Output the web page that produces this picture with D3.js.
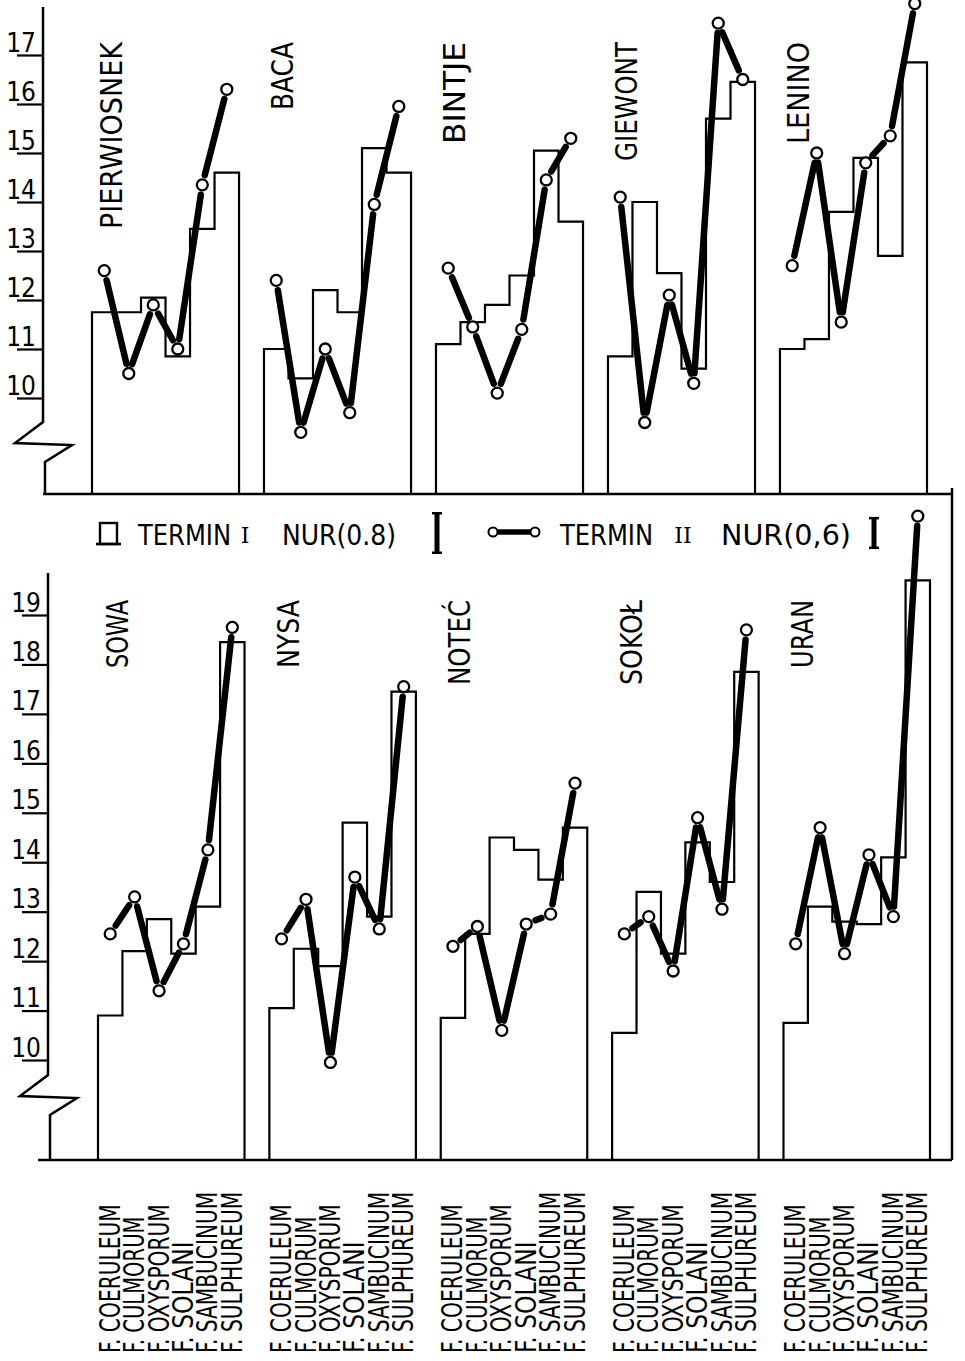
<!DOCTYPE html>
<html>
<head>
<meta charset="utf-8">
<script src="https://cdn.jsdelivr.net/npm/d3@7/dist/d3.min.js"></script>
<style>
  body { margin: 0; background: #fff; }
  text { font-family: "DejaVu Sans Condensed", "DejaVu Sans", sans-serif; fill: #000; }
</style>
</head>
<body>
<svg id="chart" width="965" height="1361"></svg>
<script>
const fungi = ["F. COERULEUM", "F. CULMORUM", "F. OXYSPORUM", "F. SOLANI", "F. SAMBUCINUM", "F. SULPHUREUM"];

const cultivarsTop = ["PIERWIOSNEK", "BACA", "BINTJE", "GIEWONT", "LENINO"];
const cultivarsBottom = ["SOWA", "NYSA", "NOTEĆ", "SOKOŁ", "URAN"];

// termin I (steps), one row per cultivar, one value per fungus
const termITop = [
  [11.75, 11.75, 12.05, 10.85, 13.45, 14.6],
  [11.0, 10.4, 12.2, 11.75, 15.1, 14.6],
  [11.1, 11.55, 11.9, 12.5, 15.05, 13.6],
  [10.85, 14.0, 12.55, 10.6, 15.7, 16.45],
  [11.0, 11.2, 13.8, 14.9, 12.9, 16.85]
];
// termin II (line with circles)
const termIITop = [
  [12.6, 10.5, 11.9, 11.0, 14.35, 16.3],
  [12.4, 9.3, 11.0, 9.7, 13.95, 15.95],
  [12.65, 11.45, 10.1, 11.4, 14.45, 15.3],
  [14.1, 9.5, 12.1, 10.3, 17.65, 16.5],
  [12.7, 15.0, 11.55, 14.8, 15.35, 18.05]
];

const termIBottom = [
  [10.9, 12.2, 12.85, 12.15, 13.1, 18.45],
  [11.05, 12.25, 11.9, 14.8, 12.9, 17.45],
  [10.85, 12.55, 14.5, 14.25, 13.65, 14.7],
  [10.55, 13.4, 12.15, 14.4, 13.6, 17.85],
  [10.75, 13.1, 12.8, 12.75, 14.1, 19.7]
];
const termIIBottom = [
  [12.55, 13.3, 11.4, 12.35, 14.25, 18.75],
  [12.45, 13.25, 9.95, 13.7, 12.65, 17.55],
  [12.3, 12.7, 10.6, 12.75, 12.95, 15.6],
  [12.55, 12.9, 11.8, 14.9, 13.05, 18.7],
  [12.35, 14.7, 12.15, 14.15, 12.9, 21.0]
];

const ticksTop = [10, 11, 12, 13, 14, 15, 16, 17];
const ticksBottom = [10, 11, 12, 13, 14, 15, 16, 17, 18, 19];

const nurValues = [0.8, 0.6];
const terminLabels = ["I", "II"];
const nurLabels = ["NUR(0.8)", "NUR(0,6)"];

const svg = d3.select("#chart");

const panels = [
  { cultivars: cultivarsTop, termI: termITop, termII: termIITop, ticks: ticksTop,
    yRange: [398, 55], xRange: [92, 927], axisX: 43, axisTop: 7, breakY: 422, base: 494, baseX0: 43, titleY: 42 },
  { cultivars: cultivarsBottom, termI: termIBottom, termII: termIIBottom, ticks: ticksBottom,
    yRange: [1060, 615], xRange: [98, 930], axisX: 48, axisTop: 573, breakY: 1075, base: 1160, baseX0: 38, titleY: 600 }
];

function trim(a, b, gap) {
  const dx = b[0] - a[0], dy = b[1] - a[1];
  const len = Math.hypot(dx, dy);
  const ux = dx / len, uy = dy / len;
  return [[a[0] + ux * gap, a[1] + uy * gap], [b[0] - ux * gap, b[1] - uy * gap]];
}

let pxPerUnit = 49;

panels.forEach((p, pi) => {
  const y = d3.scaleLinear().domain(d3.extent(p.ticks)).range(p.yRange);
  pxPerUnit = Math.abs(y(11) - y(10));
  const xGroup = d3.scaleBand().domain(p.cultivars).range(p.xRange).paddingInner(0.145).paddingOuter(0);
  const xFungus = d3.scaleBand().domain(fungi).range([0, xGroup.bandwidth()]).padding(0);

  const g = svg.append("g");

  // axis with tick labels above the ticks
  const axis = g.append("g")
    .attr("transform", `translate(${p.axisX},0)`)
    .call(d3.axisLeft(y).tickValues(p.ticks).tickSize(26).tickSizeOuter(0).tickFormat(d3.format("d")));
  axis.select(".domain").remove();
  axis.selectAll(".tick line").attr("stroke", "#000").attr("stroke-width", 2.2);
  axis.selectAll(".tick text")
    .attr("x", -22).attr("dy", -4)
    .attr("text-anchor", "middle")
    .style("font-size", "26px");

  // axis line with break
  const ax = p.axisX, bY = p.breakY;
  g.append("path")
    .attr("d", `M${ax},${p.axisTop}V${bY}L${ax - 28},${bY + 21}L${ax + 29},${bY + 23}L${ax + 2},${bY + 40}V${p.base}`)
    .attr("fill", "none").attr("stroke", "#000").attr("stroke-width", 2.5);

  // baseline
  g.append("line")
    .attr("x1", p.baseX0).attr("x2", 952)
    .attr("y1", p.base).attr("y2", p.base)
    .attr("stroke", "#000").attr("stroke-width", 2.5);

  p.cultivars.forEach((name, ci) => {
    const x0 = xGroup(name);
    const bw = xFungus.bandwidth();
    const t1 = p.termI[ci];
    const t2 = p.termII[ci];

    // termin I step outline
    const pts = [[x0, p.base]];
    fungi.forEach((f, fi) => pts.push([x0 + xFungus(f), y(t1[fi])]));
    pts.push([x0 + xGroup.bandwidth(), y(t1[t1.length - 1])]);
    pts.push([x0 + xGroup.bandwidth(), p.base]);
    g.append("path")
      .attr("d", d3.line().curve(d3.curveStepAfter)(pts))
      .attr("fill", "none").attr("stroke", "#000").attr("stroke-width", 2.2);

    // termin II line + circles
    const cpts = fungi.map((f, fi) => [x0 + xFungus(f) + bw / 2, y(t2[fi])]);
    for (let i = 0; i < cpts.length - 1; i++) {
      const [a, b] = trim(cpts[i], cpts[i + 1], 10);
      g.append("line")
        .attr("x1", a[0]).attr("y1", a[1]).attr("x2", b[0]).attr("y2", b[1])
        .attr("stroke", "#000").attr("stroke-width", 6.5).attr("stroke-linecap", "round");
    }
    g.selectAll(null).data(cpts).enter().append("circle")
      .attr("cx", d => d[0]).attr("cy", d => d[1]).attr("r", 5.5)
      .attr("fill", "#fff").attr("stroke", "#000").attr("stroke-width", 2.3);

    // cultivar title, rotated
    g.append("text")
      .attr("transform", `translate(${x0 + 19},${p.titleY}) rotate(-90)`)
      .attr("text-anchor", "end")
      .attr("dominant-baseline", "central")
      .attr("textLength", name.length * 17)
      .attr("lengthAdjust", "spacingAndGlyphs")
      .style("font-size", "30px")
      .text(name);

    // fungus labels under bottom panel
    if (pi === 1) {
      fungi.forEach(f => {
        g.append("text")
          .attr("transform", `translate(${x0 + xFungus(f) + bw / 2},1353) rotate(-90)`)
          .attr("text-anchor", "start")
          .attr("dominant-baseline", "central")
          .attr("textLength", f.length * 12.4)
          .attr("lengthAdjust", "spacingAndGlyphs")
          .style("font-size", "28px")
          .text(f);
      });
    }
  });
});

// right border
svg.append("line")
  .attr("x1", 952).attr("x2", 952).attr("y1", 488).attr("y2", 1160)
  .attr("stroke", "#000").attr("stroke-width", 2.5);

// legend
const lg = svg.append("g");
const legY = 545;
lg.append("rect").attr("x", 100).attr("y", 523).attr("width", 17).attr("height", 21)
  .attr("fill", "none").attr("stroke", "#000").attr("stroke-width", 2.4);
lg.append("line").attr("x1", 96).attr("x2", 121).attr("y1", 544).attr("y2", 544)
  .attr("stroke", "#000").attr("stroke-width", 2.6);

lg.append("circle").attr("cx", 493).attr("cy", 532).attr("r", 4.5)
  .attr("fill", "#fff").attr("stroke", "#000").attr("stroke-width", 2);
lg.append("line").attr("x1", 498).attr("x2", 530).attr("y1", 532).attr("y2", 532)
  .attr("stroke", "#000").attr("stroke-width", 5.5);
lg.append("circle").attr("cx", 535).attr("cy", 532).attr("r", 4.5)
  .attr("fill", "#fff").attr("stroke", "#000").attr("stroke-width", 2);

const legendSlots = [
  { terminX: 138, numX: 245, nurX: 282, nurLen: 114, barX: 437 },
  { terminX: 560, numX: 683, nurX: 721, nurLen: 130, barX: 874 }
];
legendSlots.forEach((s, i) => {
  lg.append("text").attr("x", s.terminX).attr("y", legY)
    .attr("textLength", 93).attr("lengthAdjust", "spacingAndGlyphs")
    .style("font-size", "28px").text("TERMIN");
  lg.append("text").attr("x", s.numX).attr("y", legY - 2).attr("text-anchor", "middle")
    .style("font-size", "22px").style("font-family", "'DejaVu Serif', serif").text(terminLabels[i]);
  lg.append("text").attr("x", s.nurX).attr("y", legY)
    .attr("textLength", s.nurLen).attr("lengthAdjust", "spacingAndGlyphs")
    .style("font-size", "28px").text(nurLabels[i]);
  const h = nurValues[i] * pxPerUnit;
  const cy = 533;
  lg.append("line").attr("x1", s.barX).attr("x2", s.barX).attr("y1", cy - h / 2).attr("y2", cy + h / 2)
    .attr("stroke", "#000").attr("stroke-width", 5);
  [cy - h / 2, cy + h / 2].forEach(yy => {
    lg.append("line").attr("x1", s.barX - 5).attr("x2", s.barX + 5).attr("y1", yy).attr("y2", yy)
      .attr("stroke", "#000").attr("stroke-width", 2.5);
  });
});
</script>
</body>
</html>
